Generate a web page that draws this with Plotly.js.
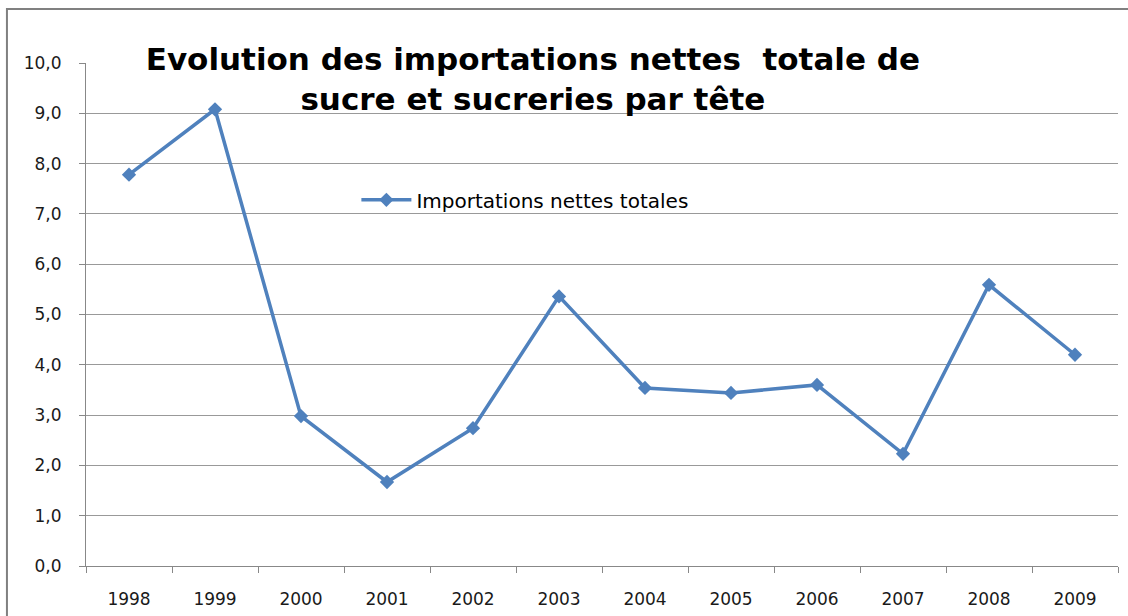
<!DOCTYPE html>
<html>
<head>
<meta charset="utf-8">
<script src="https://cdn.plot.ly/plotly-3.0.1.min.js"></script>
<style>html,body{margin:0;padding:0;background:#fff;}#chart{width:1128px;height:616px;}</style>
</head>
<body>
<div id="chart"></div>
<script>
const years = ['1998','1999','2000','2001','2002','2003','2004','2005','2006','2007','2008','2009'];
const importations = [7.78, 9.08, 2.98, 1.67, 2.74, 5.36, 3.54, 3.44, 3.60, 2.23, 5.59, 4.20];
const seriesName = 'Importations nettes totales';
const chartTitle = 'Evolution des importations nettes  totale de<br>sucre et sucreries par tête';

const trace = {
  x: years, y: importations, type: 'scatter', mode: 'lines+markers', name: seriesName,
  line: {color: '#4F81BD', width: 3.5},
  marker: {symbol: 'diamond', size: 11, color: '#4F81BD'}
};

const layout = {
  width: 1128, height: 616,
  margin: {l: 86, r: 10, t: 63, b: 50},
  paper_bgcolor: '#fff', plot_bgcolor: '#fff',
  separators: ', ',
  showlegend: true,
  title: {
    text: chartTitle,
    font: {family: 'DejaVu Sans, sans-serif', size: 31, color: '#000', weight: 'bold'},
    x: 0.433, xanchor: 'center', xref: 'paper',
    y: 1 - 70/616, yref: 'container', yanchor: 'top'
  },
  legend: {
    x: 0.262, y: 0.728, xanchor: 'left', yanchor: 'middle',
    bgcolor: 'rgba(0,0,0,0)',
    font: {family: 'DejaVu Sans, sans-serif', size: 20, color: '#000'},
    itemwidth: 50
  },
  xaxis: {
    type: 'category', range: [-0.5, 11.5], tickson: 'boundaries', ticks: 'outside', ticklen: 6,
    tickcolor: '#888', showline: true, linecolor: '#888', linewidth: 1,
    showgrid: false, zeroline: false,
    tickfont: {family: 'DejaVu Sans, sans-serif', size: 17, color: '#1a1a1a'},
    ticklabelstandoff: 18
  },
  yaxis: {
    range: [0, 10], dtick: 1, tickformat: '.1f', ticks: 'outside', ticklen: 6,
    tickcolor: '#888', showline: true, linecolor: '#888', linewidth: 1,
    showgrid: true, gridcolor: '#999', gridwidth: 1, zeroline: false,
    tickfont: {family: 'DejaVu Sans, sans-serif', size: 17, color: '#1a1a1a'},
    ticklabelstandoff: 14
  },
  shapes: [{
    type: 'rect', xref: 'paper', yref: 'paper',
    x0: -0.0766, x1: 1.05, y0: -0.2, y1: 1.1074,
    line: {color: '#808080', width: 2}, fillcolor: 'rgba(0,0,0,0)', layer: 'below'
  }]
};

Plotly.newPlot('chart', [trace], layout, {displayModeBar: false, staticPlot: true});
</script>
</body>
</html>
